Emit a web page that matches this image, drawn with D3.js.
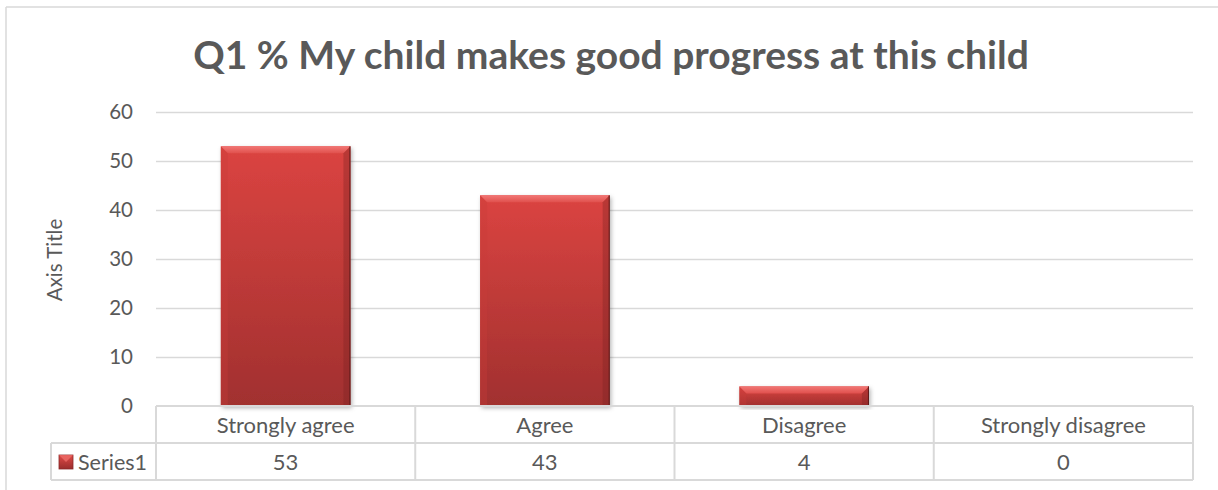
<!DOCTYPE html>
<html>
<head>
<meta charset="utf-8">
<script src="https://cdn.jsdelivr.net/npm/d3@7"></script>
<style>
html,body{margin:0;padding:0;background:#fff;}
svg{display:block;}
text{font-family:Lato,"Open Sans",sans-serif;fill:#595959;}
</style>
</head>
<body>
<svg id="chart" width="1218" height="490"></svg>
<script>
const titleText = "Q1 % My child makes good progress at this child";
const categories = ["Strongly agree", "Agree", "Disagree", "Strongly disagree"];
const seriesName = "Series1";
const values = [53, 43, 4, 0];
const yTicks = [0, 10, 20, 30, 40, 50, 60];
const axisTitle = "Axis Title";

const svg = d3.select("#chart");
const W = 1218, H = 490;
const plot = {left: 156, right: 1193, top: 112, bottom: 406};
const rowH = 37;
const fs = 20.5;
const fsT = 22;

const defs = svg.append("defs");
const g1 = defs.append("linearGradient").attr("id","barGrad").attr("x1",0).attr("y1",0).attr("x2",0).attr("y2",1);
g1.append("stop").attr("offset","0%").attr("stop-color","#DB4441");
g1.append("stop").attr("offset","100%").attr("stop-color","#A1302F");
const g2 = defs.append("linearGradient").attr("id","topBevel").attr("x1",0).attr("y1",0).attr("x2",0).attr("y2",1);
g2.append("stop").attr("offset","0%").attr("stop-color","#F27775");
g2.append("stop").attr("offset","100%").attr("stop-color","#E0504D");
const f = defs.append("filter").attr("id","shadow").attr("x","-10%").attr("y","-10%").attr("width","130%").attr("height","130%");
f.append("feDropShadow").attr("dx",1.5).attr("dy",2).attr("stdDeviation",2).attr("flood-color","#000").attr("flood-opacity",0.3);

// outer border
svg.append("line").attr("x1",6).attr("x2",W).attr("y1",7).attr("y2",7).attr("stroke","#D9D9D9").attr("stroke-width",1.5);
svg.append("line").attr("x1",6).attr("x2",6).attr("y1",7).attr("y2",H).attr("stroke","#D9D9D9").attr("stroke-width",1.5);

// title
svg.append("text").attr("x",611).attr("y",69).attr("text-anchor","middle")
  .attr("font-size",39).attr("font-weight","bold").text(titleText);

const x = d3.scaleBand().domain(categories).range([plot.left, plot.right]).paddingInner(0).paddingOuter(0);
const y = d3.scaleLinear().domain([0, 60]).range([plot.bottom, plot.top]);

// grid
svg.append("g").selectAll("line").data(yTicks.filter(d=>d>0)).join("line")
  .attr("x1",plot.left).attr("x2",plot.right)
  .attr("y1",d=>Math.round(y(d))+0.5).attr("y2",d=>Math.round(y(d))+0.5)
  .attr("stroke","#D9D9D9").attr("stroke-width",1.3);

// y axis labels
const yAxis = d3.axisLeft(y).tickValues(yTicks).tickSize(0).tickPadding(0);
const ya = svg.append("g").attr("transform",`translate(133,0)`).call(yAxis);
ya.select(".domain").remove();
ya.selectAll("text").attr("font-size",fs).style("fill","#595959").attr("font-family","Lato, 'Open Sans', sans-serif");

svg.append("text").attr("transform","translate(62,260) rotate(-90)").attr("text-anchor","middle")
  .attr("font-size",fs).text(axisTitle);

// bars
const bw = x.bandwidth()*0.5;
const bars = svg.append("g");
categories.forEach((c,i)=>{
  const v = values[i];
  if (v <= 0) return;
  const x0 = x(c) + (x.bandwidth()-bw)/2;
  const y0 = y(v), h = y(0)-y(v);
  const b = Math.min(7, h/2);
  const gb = bars.append("g");
  gb.append("rect").attr("x",x0).attr("y",y0).attr("width",bw).attr("height",h)
    .attr("fill","url(#barGrad)").attr("filter","url(#shadow)");
  gb.append("path").attr("d",`M${x0},${y0}L${x0+bw},${y0}L${x0+bw-b},${y0+b}L${x0+b},${y0+b}Z`).attr("fill","url(#topBevel)");
  gb.append("path").attr("d",`M${x0},${y0}L${x0+b},${y0+b}L${x0+b},${y0+h}L${x0},${y0+h}Z`).attr("fill","#C93B39").attr("opacity",0.35);
  gb.append("path").attr("d",`M${x0+bw},${y0}L${x0+bw-b},${y0+b}L${x0+bw-b},${y0+h}L${x0+bw},${y0+h}Z`).attr("fill","#7A2222").attr("opacity",0.35);
  gb.append("line").attr("x1",x0+bw-0.5).attr("x2",x0+bw-0.5).attr("y1",y0).attr("y2",y0+h).attr("stroke","#5E1A19").attr("stroke-width",1);
});

// data table
const tg = svg.append("g");
const lc = "#D9D9D9";
const t0 = plot.bottom, t1 = t0 + rowH, t2 = t1 + rowH;
const legendLeft = 51;
tg.append("line").attr("x1",plot.left).attr("x2",plot.right).attr("y1",t0).attr("y2",t0).attr("stroke",lc).attr("stroke-width",2);
tg.append("line").attr("x1",legendLeft).attr("x2",plot.right).attr("y1",t1).attr("y2",t1).attr("stroke",lc).attr("stroke-width",2);
tg.append("line").attr("x1",legendLeft).attr("x2",plot.right).attr("y1",t2).attr("y2",t2).attr("stroke",lc).attr("stroke-width",2);
tg.append("line").attr("x1",legendLeft).attr("x2",legendLeft).attr("y1",t1).attr("y2",t2).attr("stroke",lc).attr("stroke-width",2);
const bounds = categories.map(c=>x(c)).concat([plot.right]);
tg.selectAll("line.v").data(bounds).join("line").attr("class","v")
  .attr("x1",d=>d).attr("x2",d=>d).attr("y1",t0).attr("y2",t2).attr("stroke",lc).attr("stroke-width",2);

tg.selectAll("text.cat").data(categories).join("text").attr("class","cat")
  .attr("x",d=>x(d)+x.bandwidth()/2).attr("y",t0+27).attr("text-anchor","middle").attr("font-size",fsT).text(d=>d);
tg.selectAll("text.val").data(values).join("text").attr("class","val")
  .attr("x",(d,i)=>x(categories[i])+x.bandwidth()/2).attr("y",t1+27).attr("text-anchor","middle").attr("font-size",fsT).text(d=>d);

// legend key
const g3 = defs.append("linearGradient").attr("id","keyGrad").attr("x1",0).attr("y1",0).attr("x2",0).attr("y2",1);
g3.append("stop").attr("offset","0%").attr("stop-color","#E04A47");
g3.append("stop").attr("offset","100%").attr("stop-color","#9A2D2C");
tg.append("rect").attr("x",59).attr("y",t1+12).attr("width",14).attr("height",14).attr("fill","url(#keyGrad)").attr("stroke","#8B2828").attr("stroke-width",0.8);
tg.append("path").attr("d",`M59,${t1+12}L73,${t1+12}L66,${t1+19}Z`).attr("fill","#EE6B68").attr("opacity",0.8);
tg.append("text").attr("x",78).attr("y",t1+27).attr("font-size",21.5).text(seriesName);
</script>
</body>
</html>
